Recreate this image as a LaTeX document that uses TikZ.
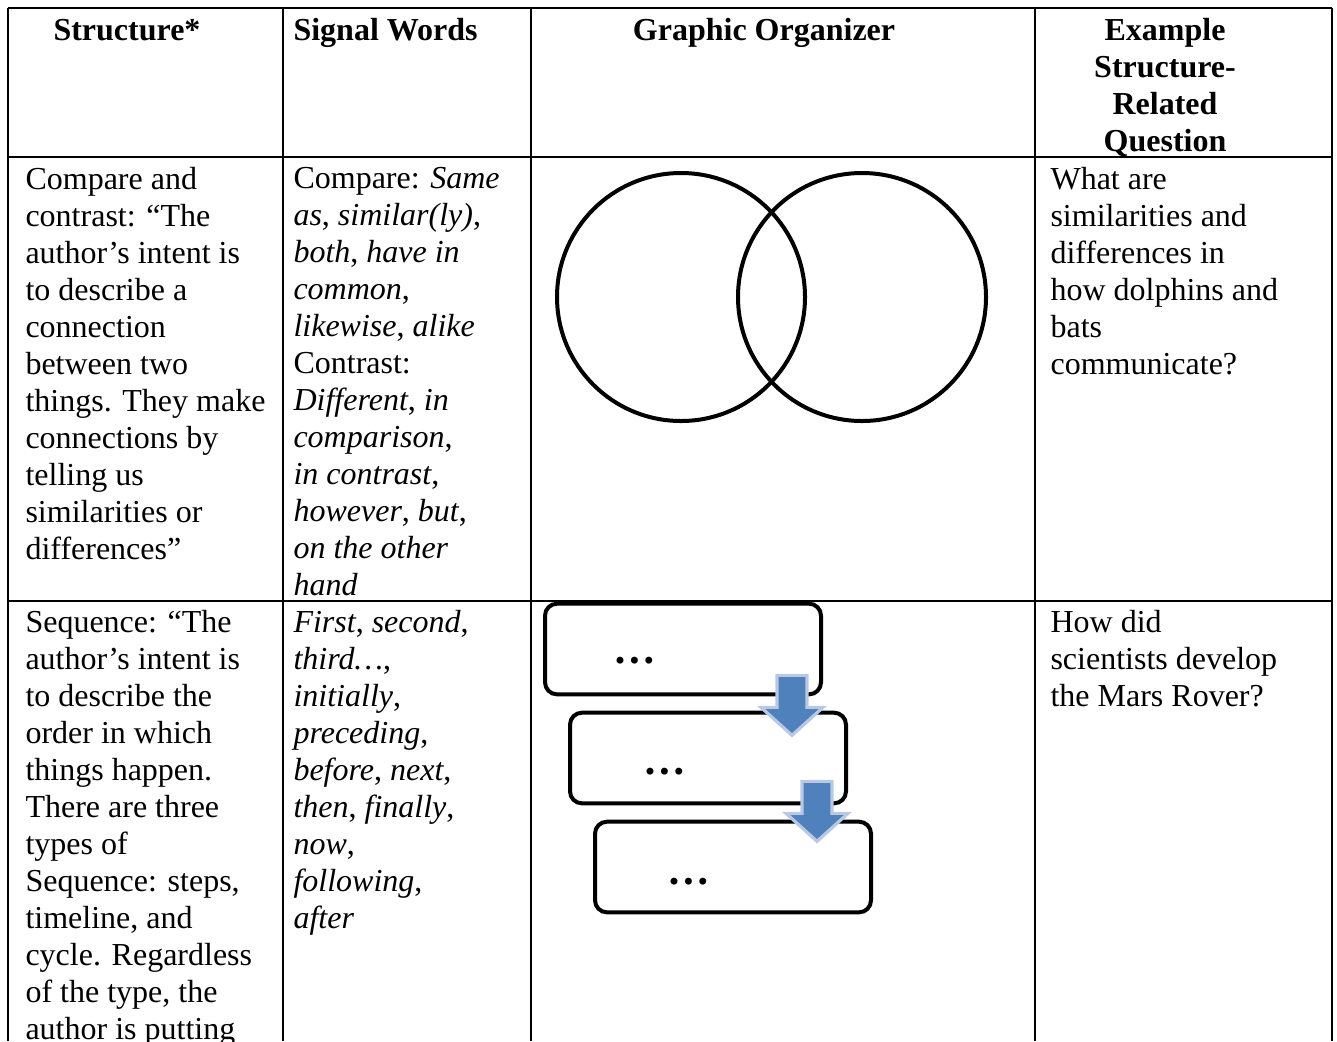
\documentclass[tikz,border=0pt]{standalone}
\usepackage{fontspec}
\setmainfont{Liberation Serif}
\usepackage{tikz}

\definecolor{arrowblue}{HTML}{4F81BD}
\definecolor{arrowrim}{HTML}{B9C9E3}

\begin{document}
\begin{tikzpicture}[x=0.375pt, y=-0.375pt,
    rule/.style={line width=0.75pt},
    celltext/.style={anchor=north west, inner sep=0pt, align=left, font=\fontsize{12}{13.875}\selectfont, execute at begin node=\strut},
    headtext/.style={anchor=north, inner sep=0pt, align=center, font=\fontsize{12}{13.875}\selectfont\bfseries, execute at begin node=\strut},
    venn/.style={draw, circle, line width=1.5pt, minimum size=93pt, inner sep=0pt},
    seqbox/.style={draw, rectangle, rounded corners=4.5pt, line width=1.5pt, minimum width=103.5pt, minimum height=34pt},
    seqdots/.style={anchor=base, inner sep=0pt, font=\fontsize{16}{19}\selectfont\bfseries},
    seqarrow/.style={fill=arrowblue, draw=arrowrim, line width=1.2pt, line join=miter}]
    \useasboundingbox (0,0) rectangle (1337,1041);

    % Table rules
    \draw[rule] (8,8) -- (1332,8);
    \draw[rule] (8,157) -- (1332,157);
    \draw[rule] (8,601) -- (1332,601);
    \foreach \x in {8,283,531,1035,1332}
        \draw[rule] (\x,8) -- (\x,1041);

    % Header
    \node[headtext, anchor=north west] (hstruct) at (53,14) {Structure*};
    \node[headtext, anchor=north west] (hsignal) at (293,14) {Signal Words};
    \node[headtext] (hgraphic) at (764,14) {Graphic Organizer};
    \node[headtext] (hexample) at (1165,18) {Example\\Structure-\\Related\\Question};

    % Row 1: compare and contrast
    \node[celltext] (struct1) at (25,167) {Compare and\\contrast: “The\\author’s intent is\\to describe a\\connection\\between two\\things. They make\\connections by\\telling us\\similarities or\\differences”};
    \node[celltext] (signal1) at (293,167) {Compare: \textit{Same}\\\textit{as}, \textit{similar(ly)},\\\textit{both}, \textit{have in}\\\textit{common},\\\textit{likewise}, \textit{alike}\\Contrast:\\\textit{Different}, \textit{in}\\\textit{comparison},\\\textit{in contrast},\\\textit{however}, \textit{but},\\\textit{on the other}\\\textit{hand}};
    \node[venn] (vennL) at (681,297) {};
    \node[venn] (vennR) at (862,297) {};
    \node[celltext] (quest1) at (1050,167) {What are\\similarities and\\differences in\\how dolphins and\\bats\\communicate?};

    % Row 2: sequence
    \node[celltext] (struct2) at (25,610) {Sequence: “The\\author’s intent is\\to describe the\\order in which\\things happen.\\There are three\\types of\\Sequence: steps,\\timeline, and\\cycle. Regardless\\of the type, the\\author is putting};
    \node[celltext] (signal2) at (293,610) {\textit{First}, \textit{second},\\\textit{third…},\\\textit{initially},\\\textit{preceding},\\\textit{before}, \textit{next},\\\textit{then}, \textit{finally},\\\textit{now},\\\textit{following},\\\textit{after}};
    \node[seqbox] (step1) at (683,649) {};
    \node[seqbox] (step2) at (708,758) {};
    \node[seqbox] (step3) at (733,867) {};
    \node[seqdots] (dots1) at (635,663) {…};
    \node[seqdots] (dots2) at (665,774) {…};
    \node[seqdots] (dots3) at (689,884) {…};
    \node[celltext] (quest2) at (1050,610) {How did\\scientists develop\\the Mars Rover?};

    % Arrows between steps
    \coordinate (tip1) at ([shift={(-31,39)}]step1.south east);
    \coordinate (tip2) at ([shift={(-31,36)}]step2.south east);
    \foreach \t in {tip1,tip2}
        \draw[seqarrow] (\t) -- ++(-31,-28) -- ++(16,0) -- ++(0,-32) -- ++(30,0) -- ++(0,32) -- ++(16,0) -- cycle;
\end{tikzpicture}
\end{document}
